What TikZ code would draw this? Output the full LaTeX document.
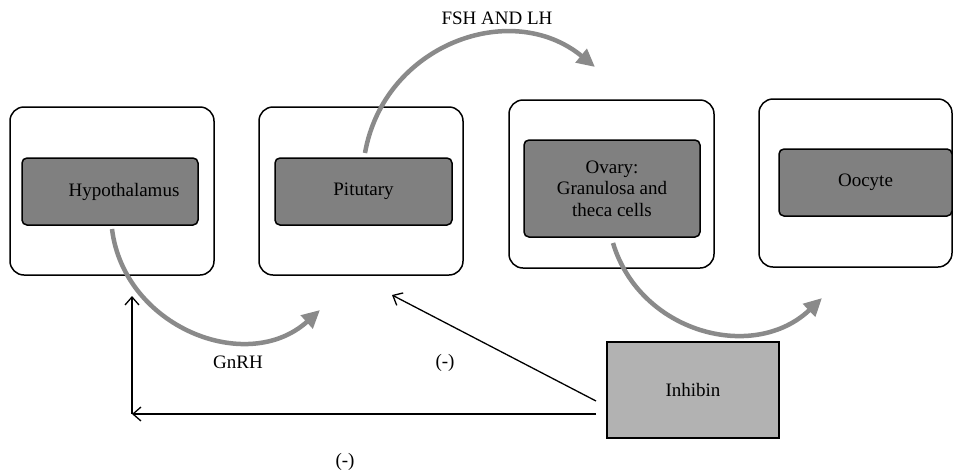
\documentclass[tikz,border=0pt]{standalone}
\usepackage{fontspec}
\setmainfont{Liberation Serif}
\usetikzlibrary{arrows.meta}
\definecolor{innergray}{RGB}{128,128,128}
\definecolor{inhgray}{RGB}{178,178,178}
\definecolor{arrgray}{RGB}{138,138,138}
\begin{document}
\begin{tikzpicture}[x=1pt,y=-1pt, font=\fontsize{19}{21.5}\selectfont,
 outerbox/.style={draw, line width=1.5pt, rounded corners=14pt, inner sep=0pt, outer sep=0pt},
 innerbox/.style={draw, line width=1.5pt, rounded corners=5pt, fill=innergray, inner sep=0pt, outer sep=0pt, align=center},
 hormone/.style={draw=arrgray, line width=4.5pt, -{Triangle[length=18pt,width=17pt]}},
 inhib/.style={draw, line width=1.3pt, -{Straight Barb[length=8pt,width=14pt]}},
 lbl/.style={inner sep=0pt}]
\useasboundingbox (0,0) rectangle (954,472);
% outer boxes
\node[outerbox, minimum width=204pt, minimum height=168pt] (hypout) at (112,191) {};
\node[outerbox, minimum width=204pt, minimum height=168pt] (pitout) at (361,191) {};
\node[outerbox, minimum width=205pt, minimum height=168pt] (ovout) at (611.5,184) {};
\node[outerbox, minimum width=193pt, minimum height=168pt] (oocout) at (855.5,183) {};
% inner boxes
\node[innerbox, minimum width=176pt, minimum height=67pt] (hyp) at (110,191.5) {\hspace*{28pt}Hypothalamus};
\node[innerbox, minimum width=177pt, minimum height=67pt] (pit) at (363.5,191.5) {Pitutary};
\node[innerbox, minimum width=176pt, minimum height=97pt] (ov) at (612,188.5) {Ovary:\\Granulosa and\\theca cells};
\node[innerbox, minimum width=173pt, minimum height=67pt] (ooc) at (865.5,182.5) {Oocyte};
% inhibin
\node[draw, line width=1.5pt, fill=inhgray, minimum width=172pt, minimum height=96pt, inner sep=0pt] (inh) at (693,390) {Inhibin};
% labels
\node[lbl] (lgnrh) at (238,362) {GnRH};
\node[lbl] (lneg1) at (445,363) {(-)};
\node[lbl] (lneg2) at (345,462) {(-)};
\node[lbl] (lfsh) at (497,18) {FSH AND LH};
% hormone arrows
\coordinate (g1) at (112,229);
\coordinate (g2) at (320,310);
\draw[hormone] (g1) .. controls (124,327) and (247,376) .. (g2);
\coordinate (f1) at (365,153);
\coordinate (f2) at (595,67);
\draw[hormone] (f1) .. controls (384,45) and (511,-2) .. (f2);
\coordinate (o1) at (613,243);
\coordinate (o2) at (822,298);
\draw[hormone] (o1) .. controls (640,333) and (754,363) .. (o2);
% inhibin feedback
\coordinate (hstart) at (596,414);
\coordinate (dstart) at (596,401);
\coordinate (corner) at (132,414);
\coordinate (hypin) at (132,296);
\coordinate (pitin) at (392,295);
\draw[inhib] (hstart) -- (corner);
\draw[inhib] (corner) -- (hypin);
\draw[inhib] (dstart) -- (pitin);
\end{tikzpicture}
\end{document}
